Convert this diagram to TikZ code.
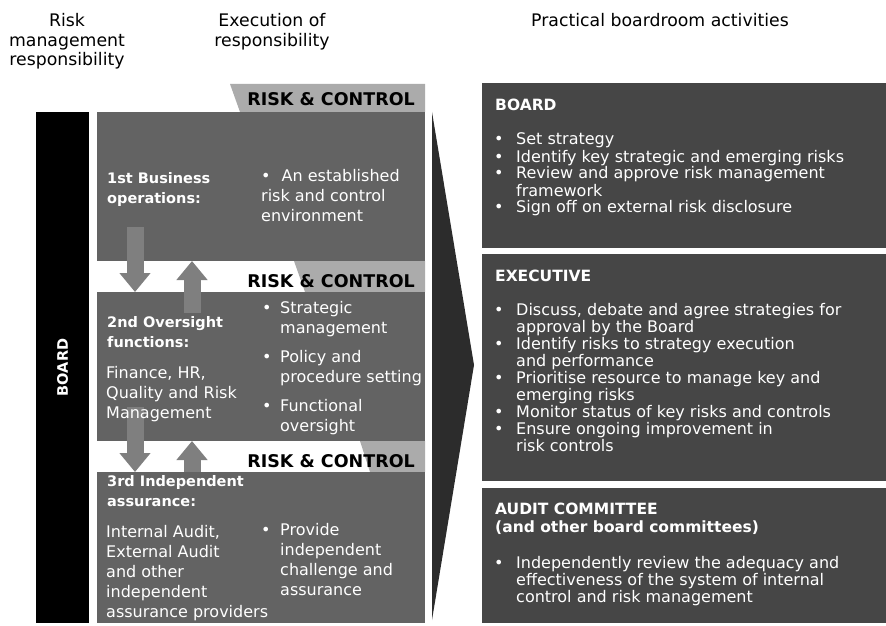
\documentclass[tikz,border=0pt]{standalone}
\usepackage{fontspec}
\setmainfont{DejaVu Sans}
\usepackage{tikz}
\usetikzlibrary{arrows.meta}

\definecolor{panelgray}{HTML}{636363}
\definecolor{boxgray}{HTML}{464646}
\definecolor{tabgray}{HTML}{ABABAB}
\definecolor{arrowgray}{HTML}{7F7F7F}
\definecolor{funnelgray}{HTML}{2C2C2C}

\newcommand{\bul}[1]{\makebox[#1][l]{\textbullet}}

\begin{document}
\begin{tikzpicture}[x=1pt,y=1pt,
  panel/.style={fill=panelgray, inner sep=0pt, minimum width=328pt},
  actbox/.style={fill=boxgray, inner sep=0pt, minimum width=404pt},
  head/.style={anchor=base, align=center, font=\fontsize{17.3}{19.5}\selectfont},
  tabtext/.style={anchor=base east, inner sep=0pt, font=\bfseries\fontsize{17.5}{20}\selectfont},
  label/.style={anchor=base west, inner sep=0pt, align=left, text=white, font=\bfseries\fontsize{14.5}{20}\selectfont},
  plain/.style={anchor=base west, inner sep=0pt, align=left, text=white, font=\fontsize{16}{20}\selectfont},
  acthead/.style={anchor=base west, inner sep=0pt, align=left, text=white, font=\bfseries\fontsize{15.5}{18}\selectfont},
  actlist/.style={anchor=base west, inner sep=0pt, align=left, text=white, font=\fontsize{16}{17}\selectfont},
  blockarrow/.style={draw=arrowgray, line width=17pt, -{Triangle[width=30pt,length=19pt]}}]
  \useasboundingbox (0pt,0pt) rectangle (886pt,625pt);

  % column headings (base = last line)
  \draw (67pt,559pt) node[head](hRisk){Risk\\management\\responsibility};
  \draw (272pt,578.5pt) node[head](hExec){Execution of\\responsibility};
  \draw (660pt,598pt) node[head](hPract){Practical boardroom activities};

  % board bar
  \draw (62.5pt,257.5pt) node[fill=black, inner sep=0pt, minimum width=53pt, minimum height=511pt](board){};
  \draw (board.center) node[rotate=90, text=white, font=\bfseries\fontsize{14.5}{16}\selectfont](boardText){BOARD};

  % risk and control tabs
  \fill[tabgray] (230pt,541pt) -- (425pt,541pt) -- (425pt,513pt) -- (240pt,513pt) -- cycle;
  \fill[tabgray] (294pt,364pt) -- (425pt,364pt) -- (425pt,333pt) -- (305pt,333pt) -- cycle;
  \fill[tabgray] (360pt,184pt) -- (425pt,184pt) -- (425pt,153pt) -- (370pt,153pt) -- cycle;
  \draw (415pt,519pt) node[tabtext](rc1){RISK \& CONTROL};
  \draw (415pt,338pt) node[tabtext](rc2){RISK \& CONTROL};
  \draw (415pt,158pt) node[tabtext](rc3){RISK \& CONTROL};

  % the three lines
  \draw (261pt,438.5pt) node[panel, minimum height=149pt](ops){};
  \draw (261pt,258.5pt) node[panel, minimum height=149pt](over){};
  \draw (261pt,77.5pt) node[panel, minimum height=151pt](assur){};

  % arrows between the lines
  \coordinate (down1s) at (135pt,398pt);
  \coordinate (down1e) at (135pt,333pt);
  \coordinate (up1s) at (192pt,312pt);
  \coordinate (up1e) at (192pt,364pt);
  \coordinate (down2s) at (135pt,218pt);
  \coordinate (down2e) at (135pt,153pt);
  \coordinate (up2s) at (192pt,153pt);
  \coordinate (up2e) at (192pt,184pt);
  \draw[blockarrow] (down1s) -- (down1e);
  \draw[blockarrow] (up1s) -- (up1e);
  \draw[blockarrow] (down2s) -- (down2e);
  \draw[blockarrow] (up2s) -- (up2e);

  \draw (107pt,421pt) node[label](opsLabel){1st Business\\operations:};
  \draw (261pt,403pt) node[plain](opsList){\bul{20.5pt}An established\\risk and control\\environment};

  \draw (107pt,278pt) node[label](overLabel){2nd Oversight\\functions:};
  \draw (106pt,207pt) node[plain](overText){Finance, HR,\\Quality and Risk\\Management};
  \draw (262pt,194pt) node[plain](overList){\bul{18pt}Strategic\\\hspace*{18pt}management\\[9pt]
    \bul{18pt}Policy and\\\hspace*{18pt}procedure setting\\[9pt]
    \bul{18pt}Functional\\\hspace*{18pt}oversight};

  \draw (107pt,119pt) node[label](assurLabel){3rd Independent\\assurance:};
  \draw (106pt,8pt) node[plain](assurText){Internal Audit,\\External Audit\\and other\\independent\\assurance providers};
  \draw (261pt,30pt) node[plain](assurList){\bul{19pt}Provide\\\hspace*{19pt}independent\\\hspace*{19pt}challenge and\\\hspace*{19pt}assurance};

  % funnel
  \fill[funnelgray] (432pt,513pt) -- (474pt,260pt) -- (432pt,5pt) -- cycle;

  % boardroom activities
  \draw (684pt,459.5pt) node[actbox, minimum height=165pt](actBoard){};
  \draw (684pt,257.5pt) node[actbox, minimum height=227pt](actExec){};
  \draw (684pt,69.5pt) node[actbox, minimum height=135pt](actAudit){};

  \draw (495pt,514pt) node[acthead](actBoardHead){BOARD};
  \draw (494pt,412pt) node[actlist](actBoardList){\bul{22pt}Set strategy\\
    \bul{22pt}Identify key strategic and emerging risks\\
    \bul{22pt}Review and approve risk management\\\hspace*{22pt}framework\\
    \bul{22pt}Sign off on external risk disclosure};

  \draw (495pt,344pt) node[acthead](actExecHead){EXECUTIVE};
  \draw (494pt,174pt) node[actlist](actExecList){\bul{22pt}Discuss, debate and agree strategies for\\\hspace*{22pt}approval by the Board\\
    \bul{22pt}Identify risks to strategy execution\\\hspace*{22pt}and performance\\
    \bul{22pt}Prioritise resource to manage key and\\\hspace*{22pt}emerging risks\\
    \bul{22pt}Monitor status of key risks and controls\\
    \bul{22pt}Ensure ongoing improvement in\\\hspace*{22pt}risk controls};

  \draw (495pt,93pt) node[acthead](actAuditHead){AUDIT COMMITTEE\\(and other board committees)};
  \draw (494pt,23pt) node[actlist](actAuditList){\bul{22pt}Independently review the adequacy and\\\hspace*{22pt}effectiveness of the system of internal\\\hspace*{22pt}control and risk management};
\end{tikzpicture}
\end{document}
